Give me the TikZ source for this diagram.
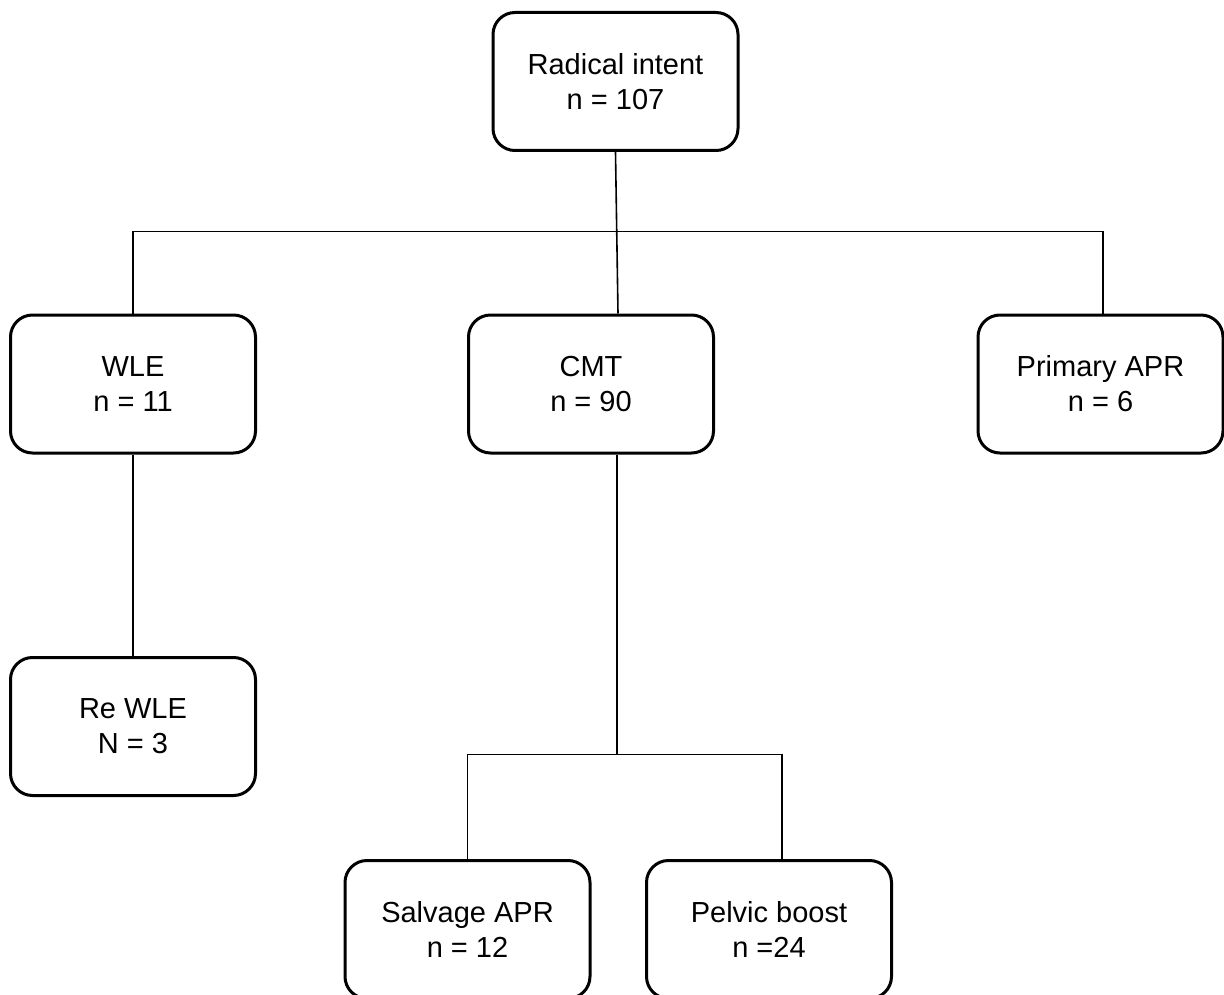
\documentclass[tikz,border=0pt]{standalone}
\usepackage{fontspec}
\setmainfont{Liberation Sans}
\usepackage{tikz}

\begin{document}
\begin{tikzpicture}[x=1pt,y=-1pt,
  mybox/.style={draw,line width=3pt,rounded corners=22pt,align=center,
    minimum width=245pt,minimum height=138pt,inner sep=0pt,
    font=\fontsize{29}{35}\selectfont},
  myline/.style={line width=1.6pt}]
\useasboundingbox (0,0) rectangle (1224,995);
  \foreach \nm/\x/\y/\txt in {rad/615.5/81.5/{Radical intent\\n = 107},
    wle/133/384/{WLE\\n = 11},cmt/591/384/{CMT\\n = 90},
    apr/1100.5/384/{Primary APR\\n = 6},rewle/133/726.5/{Re WLE\\N = 3},
    salv/467.5/929.5/{Salvage APR\\n = 12},pelv/769/929.5/{Pelvic boost\\n =24}}
  {  \node [mybox] (\nm) at (\x,\y) {\txt};}
\draw [myline] (rad.south) -- ([xshift=27pt]cmt.north);
\draw [myline] (wle.north) -- ++(0,-82) -| ([xshift=2.5pt]apr.north);
\draw [myline] (wle.south) -- (rewle.north);
\draw [myline] ([xshift=26pt]cmt.south) -- ++(0,300) coordinate (fork);
\draw [myline] (salv.north) |- (fork) -| ([xshift=13pt]pelv.north);
\end{tikzpicture}
\end{document}
